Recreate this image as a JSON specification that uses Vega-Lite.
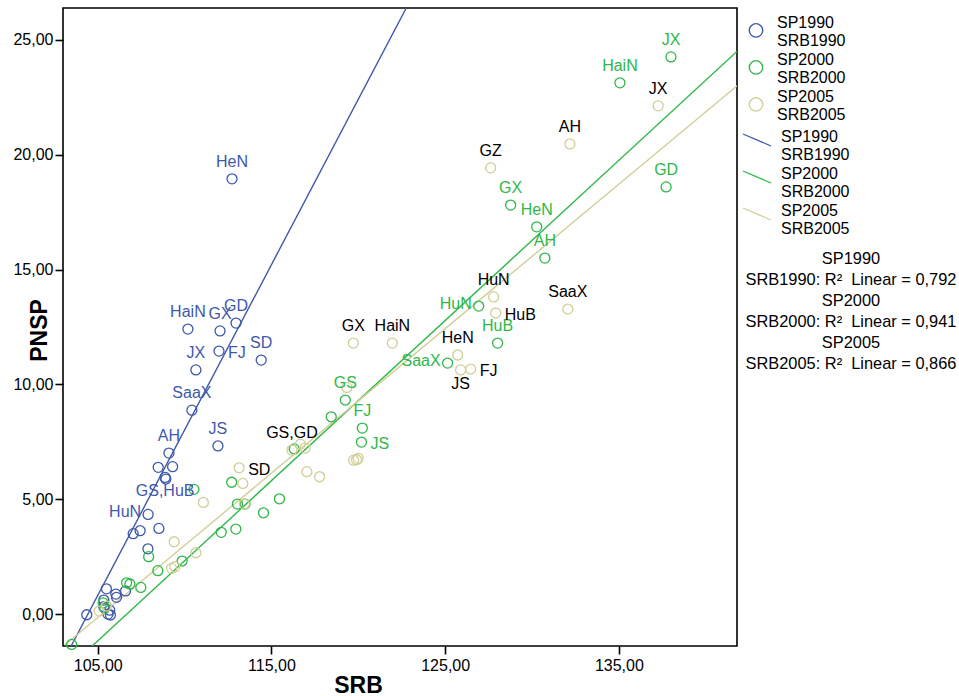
{
  "$schema": "https://vega.github.io/schema/vega-lite/v6.json",
  "width": 674,
  "height": 638,
  "autosize": {"type": "none"},
  "padding": {"left": 63, "top": 8, "right": 222, "bottom": 50},
  "background": "white",
  "title": {"text": ["SP1990", "SRB1990: R²\u00a0 Linear = 0,792", "SP2000", "SRB2000: R²\u00a0 Linear = 0,941", "SP2005", "SRB2005: R²\u00a0 Linear = 0,866"], "anchor": "start", "frame": "group", "orient": "top", "align": "center", "baseline": "top", "offset": 0, "dx": 788, "dy": 364, "lineHeight": 21, "fontSize": 16.4, "fontWeight": "normal", "font": "Liberation Sans", "color": "black"},
  "config": {
    "font": "Liberation Sans",
    "view": {"stroke": "black", "strokeWidth": 1.6},
    "axis": {"grid": false, "domain": false, "tickColor": "black", "tickSize": 8, "tickWidth": 1.6, "labelFontSize": 16, "labelColor": "black", "labelFont": "Liberation Sans", "titleFont": "Liberation Sans", "titleFontSize": 23, "titleFontWeight": "bold", "titleColor": "black"},
    "legend": {"labelFont": "Liberation Sans", "labelFontSize": 16, "labelColor": "black", "padding": 0, "labelLimit": 0}
  },
  "datasets": {
    "points": [
      {"year": "1990", "label": "HeN", "SRB": 112.73, "PNSP": 18.95},
      {"year": "1990", "label": "HaiN", "SRB": 110.19, "PNSP": 12.41},
      {"year": "1990", "label": "GX", "SRB": 112.04, "PNSP": 12.33},
      {"year": "1990", "label": "GD", "SRB": 112.96, "PNSP": 12.67},
      {"year": "1990", "label": "JX", "SRB": 110.65, "PNSP": 10.63},
      {"year": "1990", "label": "FJ", "SRB": 111.98, "PNSP": 11.45},
      {"year": "1990", "label": "SD", "SRB": 114.41, "PNSP": 11.06},
      {"year": "1990", "label": "SaaX", "SRB": 110.42, "PNSP": 8.88},
      {"year": "1990", "label": "JS", "SRB": 111.92, "PNSP": 7.32},
      {"year": "1990", "label": "AH", "SRB": 109.10, "PNSP": 7.01},
      {"year": "1990", "label": "", "SRB": 108.48, "PNSP": 6.39},
      {"year": "1990", "label": "", "SRB": 109.31, "PNSP": 6.42},
      {"year": "1990", "label": "GS,HuB", "SRB": 108.88, "PNSP": 5.95},
      {"year": "1990", "label": "", "SRB": 108.92, "PNSP": 5.88},
      {"year": "1990", "label": "HuN", "SRB": 107.90, "PNSP": 4.34},
      {"year": "1990", "label": "", "SRB": 108.52, "PNSP": 3.73},
      {"year": "1990", "label": "", "SRB": 107.44, "PNSP": 3.63},
      {"year": "1990", "label": "", "SRB": 107.04, "PNSP": 3.50},
      {"year": "1990", "label": "", "SRB": 107.89, "PNSP": 2.84},
      {"year": "1990", "label": "", "SRB": 105.50, "PNSP": 1.10},
      {"year": "1990", "label": "", "SRB": 106.04, "PNSP": 0.87},
      {"year": "1990", "label": "", "SRB": 106.08, "PNSP": 0.73},
      {"year": "1990", "label": "", "SRB": 106.60, "PNSP": 1.01},
      {"year": "1990", "label": "", "SRB": 105.35, "PNSP": 0.32},
      {"year": "1990", "label": "", "SRB": 104.37, "PNSP": -0.03},
      {"year": "1990", "label": "", "SRB": 105.73, "PNSP": -0.04},
      {"year": "1990", "label": "", "SRB": 105.59, "PNSP": 0.00},
      {"year": "1990", "label": "", "SRB": 105.69, "PNSP": 0.17},
      {"year": "1990", "label": "", "SRB": 105.35, "PNSP": 0.61},
      {"year": "2000", "label": "JX", "SRB": 138.00, "PNSP": 24.26},
      {"year": "2000", "label": "HaiN", "SRB": 135.06, "PNSP": 23.13},
      {"year": "2000", "label": "GD", "SRB": 137.72, "PNSP": 18.60},
      {"year": "2000", "label": "GX", "SRB": 128.77, "PNSP": 17.81},
      {"year": "2000", "label": "HeN", "SRB": 130.27, "PNSP": 16.86},
      {"year": "2000", "label": "AH", "SRB": 130.74, "PNSP": 15.50},
      {"year": "2000", "label": "HuN", "SRB": 126.93, "PNSP": 13.41},
      {"year": "2000", "label": "HuB", "SRB": 128.02, "PNSP": 11.80},
      {"year": "2000", "label": "SaaX", "SRB": 125.14, "PNSP": 10.93},
      {"year": "2000", "label": "GS", "SRB": 119.25, "PNSP": 9.32},
      {"year": "2000", "label": "FJ", "SRB": 120.23, "PNSP": 8.10},
      {"year": "2000", "label": "JS", "SRB": 120.18, "PNSP": 7.49},
      {"year": "2000", "label": "", "SRB": 118.44, "PNSP": 8.59},
      {"year": "2000", "label": "", "SRB": 116.31, "PNSP": 7.19},
      {"year": "2000", "label": "", "SRB": 110.54, "PNSP": 5.43},
      {"year": "2000", "label": "", "SRB": 112.71, "PNSP": 5.74},
      {"year": "2000", "label": "", "SRB": 113.04, "PNSP": 4.79},
      {"year": "2000", "label": "", "SRB": 113.48, "PNSP": 4.79},
      {"year": "2000", "label": "", "SRB": 114.54, "PNSP": 4.41},
      {"year": "2000", "label": "", "SRB": 115.46, "PNSP": 5.02},
      {"year": "2000", "label": "", "SRB": 112.11, "PNSP": 3.56},
      {"year": "2000", "label": "", "SRB": 112.95, "PNSP": 3.70},
      {"year": "2000", "label": "", "SRB": 109.86, "PNSP": 2.31},
      {"year": "2000", "label": "", "SRB": 108.46, "PNSP": 1.89},
      {"year": "2000", "label": "", "SRB": 107.93, "PNSP": 2.50},
      {"year": "2000", "label": "", "SRB": 107.48, "PNSP": 1.16},
      {"year": "2000", "label": "", "SRB": 106.66, "PNSP": 1.36},
      {"year": "2000", "label": "", "SRB": 106.85, "PNSP": 1.31},
      {"year": "2000", "label": "", "SRB": 105.31, "PNSP": 0.49},
      {"year": "2000", "label": "", "SRB": 105.40, "PNSP": 0.25},
      {"year": "2000", "label": "", "SRB": 103.50, "PNSP": -1.32},
      {"year": "2005", "label": "JX", "SRB": 137.26, "PNSP": 22.13},
      {"year": "2005", "label": "AH", "SRB": 132.18, "PNSP": 20.47},
      {"year": "2005", "label": "GZ", "SRB": 127.62, "PNSP": 19.43},
      {"year": "2005", "label": "HuN", "SRB": 127.79, "PNSP": 13.81},
      {"year": "2005", "label": "HuB", "SRB": 127.91, "PNSP": 13.11},
      {"year": "2005", "label": "SaaX", "SRB": 132.06, "PNSP": 13.28},
      {"year": "2005", "label": "HeN", "SRB": 125.72, "PNSP": 11.28},
      {"year": "2005", "label": "JS", "SRB": 125.89, "PNSP": 10.63},
      {"year": "2005", "label": "FJ", "SRB": 126.47, "PNSP": 10.67},
      {"year": "2005", "label": "GX", "SRB": 119.71, "PNSP": 11.80},
      {"year": "2005", "label": "HaiN", "SRB": 121.96, "PNSP": 11.80},
      {"year": "2005", "label": "GS,GD", "SRB": 116.18, "PNSP": 7.14},
      {"year": "2005", "label": "", "SRB": 116.66, "PNSP": 7.40},
      {"year": "2005", "label": "", "SRB": 116.94, "PNSP": 7.23},
      {"year": "2005", "label": "SD", "SRB": 113.14, "PNSP": 6.37},
      {"year": "2005", "label": "", "SRB": 113.35, "PNSP": 5.69},
      {"year": "2005", "label": "", "SRB": 119.34, "PNSP": 9.87},
      {"year": "2005", "label": "", "SRB": 119.90, "PNSP": 6.72},
      {"year": "2005", "label": "", "SRB": 120.00, "PNSP": 6.78},
      {"year": "2005", "label": "", "SRB": 119.73, "PNSP": 6.70},
      {"year": "2005", "label": "", "SRB": 117.04, "PNSP": 6.20},
      {"year": "2005", "label": "", "SRB": 117.77, "PNSP": 5.98},
      {"year": "2005", "label": "", "SRB": 111.08, "PNSP": 4.86},
      {"year": "2005", "label": "", "SRB": 109.40, "PNSP": 3.15},
      {"year": "2005", "label": "", "SRB": 110.65, "PNSP": 2.67},
      {"year": "2005", "label": "", "SRB": 109.25, "PNSP": 1.99},
      {"year": "2005", "label": "", "SRB": 109.44, "PNSP": 2.06},
      {"year": "2005", "label": "", "SRB": 105.08, "PNSP": 0.13},
      {"year": "2005", "label": "", "SRB": 113.44, "PNSP": 4.79},
      {"year": "2005", "label": "", "SRB": 105.50, "PNSP": 0.35}
    ],
    "fits": [
      {"series": "fit1990", "SRB": 103.47, "PNSP": -1.39},
      {"series": "fit1990", "SRB": 122.76, "PNSP": 26.39},
      {"series": "fit2000", "SRB": 104.68, "PNSP": -1.39},
      {"series": "fit2000", "SRB": 141.87, "PNSP": 24.55},
      {"series": "fit2005", "SRB": 103.10, "PNSP": -1.35},
      {"series": "fit2005", "SRB": 141.87, "PNSP": 23.04}
    ]
  },
  "data": {"name": "points"},
  "encoding": {
    "x": {"field": "SRB", "type": "quantitative", "scale": {"domain": [103, 141.8], "nice": false, "zero": false},
      "axis": {"values": [105, 115, 125, 135], "labelExpr": "replace(format(datum.value, '.2f'), '.', ',')", "labelPadding": 3, "title": "SRB", "titleX": 295, "titleY": 39, "titleAlign": "center", "titleBaseline": "middle"}},
    "y": {"field": "PNSP", "type": "quantitative", "scale": {"domain": [-1.39, 26.39], "nice": false, "zero": false},
      "axis": {"values": [0, 5, 10, 15, 20, 25], "labelExpr": "replace(format(datum.value, '.2f'), '.', ',')", "labelPadding": 2, "title": "PNSP", "titleX": -24, "titleY": 322, "titleAlign": "center", "titleBaseline": "middle", "titleAngle": -90}}
  },
  "layer": [
    {
      "data": {"name": "fits"},
      "mark": {"type": "line", "clip": true, "strokeWidth": 1.4},
      "encoding": {
        "stroke": {"field": "series", "type": "nominal", "scale": {"domain": ["fit1990", "fit2000", "fit2005"], "range": ["#3E58AC", "#2EB848", "#D3CE97"]},
          "legend": {"orient": "none", "legendX": 686, "legendY": 121, "title": null, "symbolType": "M-2.8,-0.6L2.8,1.8", "symbolSize": 100, "symbolStrokeWidth": 1.3, "labelOffset": 16, "rowPadding": 3, "labelBaseline": "middle", "labelExpr": "['SP' + slice(datum.label, 3), ' SRB' + slice(datum.label, 3)]"}}
      }
    },
    {
      "mark": {"type": "point", "filled": false, "size": 100, "strokeWidth": 1.3, "opacity": 1},
      "encoding": {
        "color": {"field": "year", "type": "nominal", "scale": {"domain": ["1990", "2000", "2005"], "range": ["#3E58AC", "#2EB848", "#D3CE97"]},
          "legend": {"orient": "none", "legendX": 685, "legendY": 7, "title": null, "symbolType": "M-1,1.1A1,1,0,1,0,1,1.1A1,1,0,1,0,-1,1.1Z", "symbolSize": 180, "symbolStrokeWidth": 1.4, "labelOffset": 13, "rowPadding": 3, "labelBaseline": "middle", "labelExpr": "['SP' + datum.label, ' SRB' + datum.label]"}}
      }
    },
    {
      "transform": [{"filter": "datum.label != '' && indexof(['FJ|1990','JS|2000','HuB|2005','FJ|2005','SD|2005','HuN|1990','SaaX|2000','HuN|2000','JS|2005','GS,HuB|1990'], datum.label + '|' + datum.year) < 0"}],
      "mark": {"type": "text", "align": "center", "baseline": "alphabetic", "dy": -12, "fontSize": 16},
      "encoding": {
        "text": {"field": "label"},
        "fill": {"condition": [{"test": "datum.year == '1990'", "value": "#3E58AC"}, {"test": "datum.year == '2000'", "value": "#2EB848"}], "value": "black"}
      }
    },
    {
      "transform": [{"filter": "indexof(['FJ|1990','JS|2000','HuB|2005','FJ|2005','SD|2005'], datum.label + '|' + datum.year) >= 0"}],
      "mark": {"type": "text", "align": "left", "baseline": "middle", "dx": 9, "dy": 2, "fontSize": 16},
      "encoding": {
        "text": {"field": "label"},
        "fill": {"condition": [{"test": "datum.year == '1990'", "value": "#3E58AC"}, {"test": "datum.year == '2000'", "value": "#2EB848"}], "value": "black"}
      }
    },
    {
      "transform": [{"filter": "indexof(['HuN|1990','SaaX|2000','HuN|2000'], datum.label + '|' + datum.year) >= 0"}],
      "mark": {"type": "text", "align": "right", "baseline": "middle", "dx": -7, "dy": -2, "fontSize": 16},
      "encoding": {
        "text": {"field": "label"},
        "fill": {"condition": [{"test": "datum.year == '1990'", "value": "#3E58AC"}, {"test": "datum.year == '2000'", "value": "#2EB848"}], "value": "black"}
      }
    },
    {
      "transform": [{"filter": "indexof(['JS|2005','GS,HuB|1990'], datum.label + '|' + datum.year) >= 0"}],
      "mark": {"type": "text", "align": "center", "baseline": "top", "dy": 6, "fontSize": 16},
      "encoding": {
        "text": {"field": "label"},
        "fill": {"condition": [{"test": "datum.year == '1990'", "value": "#3E58AC"}, {"test": "datum.year == '2000'", "value": "#2EB848"}], "value": "black"}
      }
    }
  ]
}
